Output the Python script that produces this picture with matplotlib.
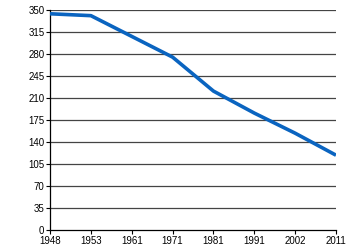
import matplotlib
matplotlib.use("Agg")
import matplotlib.pyplot as plt

years = ["1948", "1953", "1961", "1971", "1981", "1991", "2002", "2011"]
values = [344, 341, 308, 275, 221, 186, 154, 119]
yticks = [0, 35, 70, 105, 140, 175, 210, 245, 280, 315, 350]

plt.rcParams['font.family'] = ['Liberation Sans', 'DejaVu Sans']

fig = plt.figure(figsize=(3.5, 2.5), dpi=100)
ax = fig.add_axes([0.143, 0.08, 0.817, 0.88])

x = list(range(len(years)))
for t in yticks[1:]:
    ax.axhline(t, color='#444444', linewidth=0.9, zorder=1)
ax.plot(x, values, color='#0a64c0', linewidth=2.6, solid_capstyle='butt', zorder=3)

ax.set_xlim(0, len(years) - 1)
ax.set_ylim(0, 350)
ax.set_xticks(x)
ax.set_xticklabels(years)
ax.set_yticks(yticks)
ax.tick_params(axis='both', labelsize=7, length=3, width=0.8, color='black', pad=1)
for s in ['top', 'right']:
    ax.spines[s].set_visible(False)
for s in ['left', 'bottom']:
    ax.spines[s].set_linewidth(0.9)
    ax.spines[s].set_color('black')

fig.savefig("out.png", dpi=100)
